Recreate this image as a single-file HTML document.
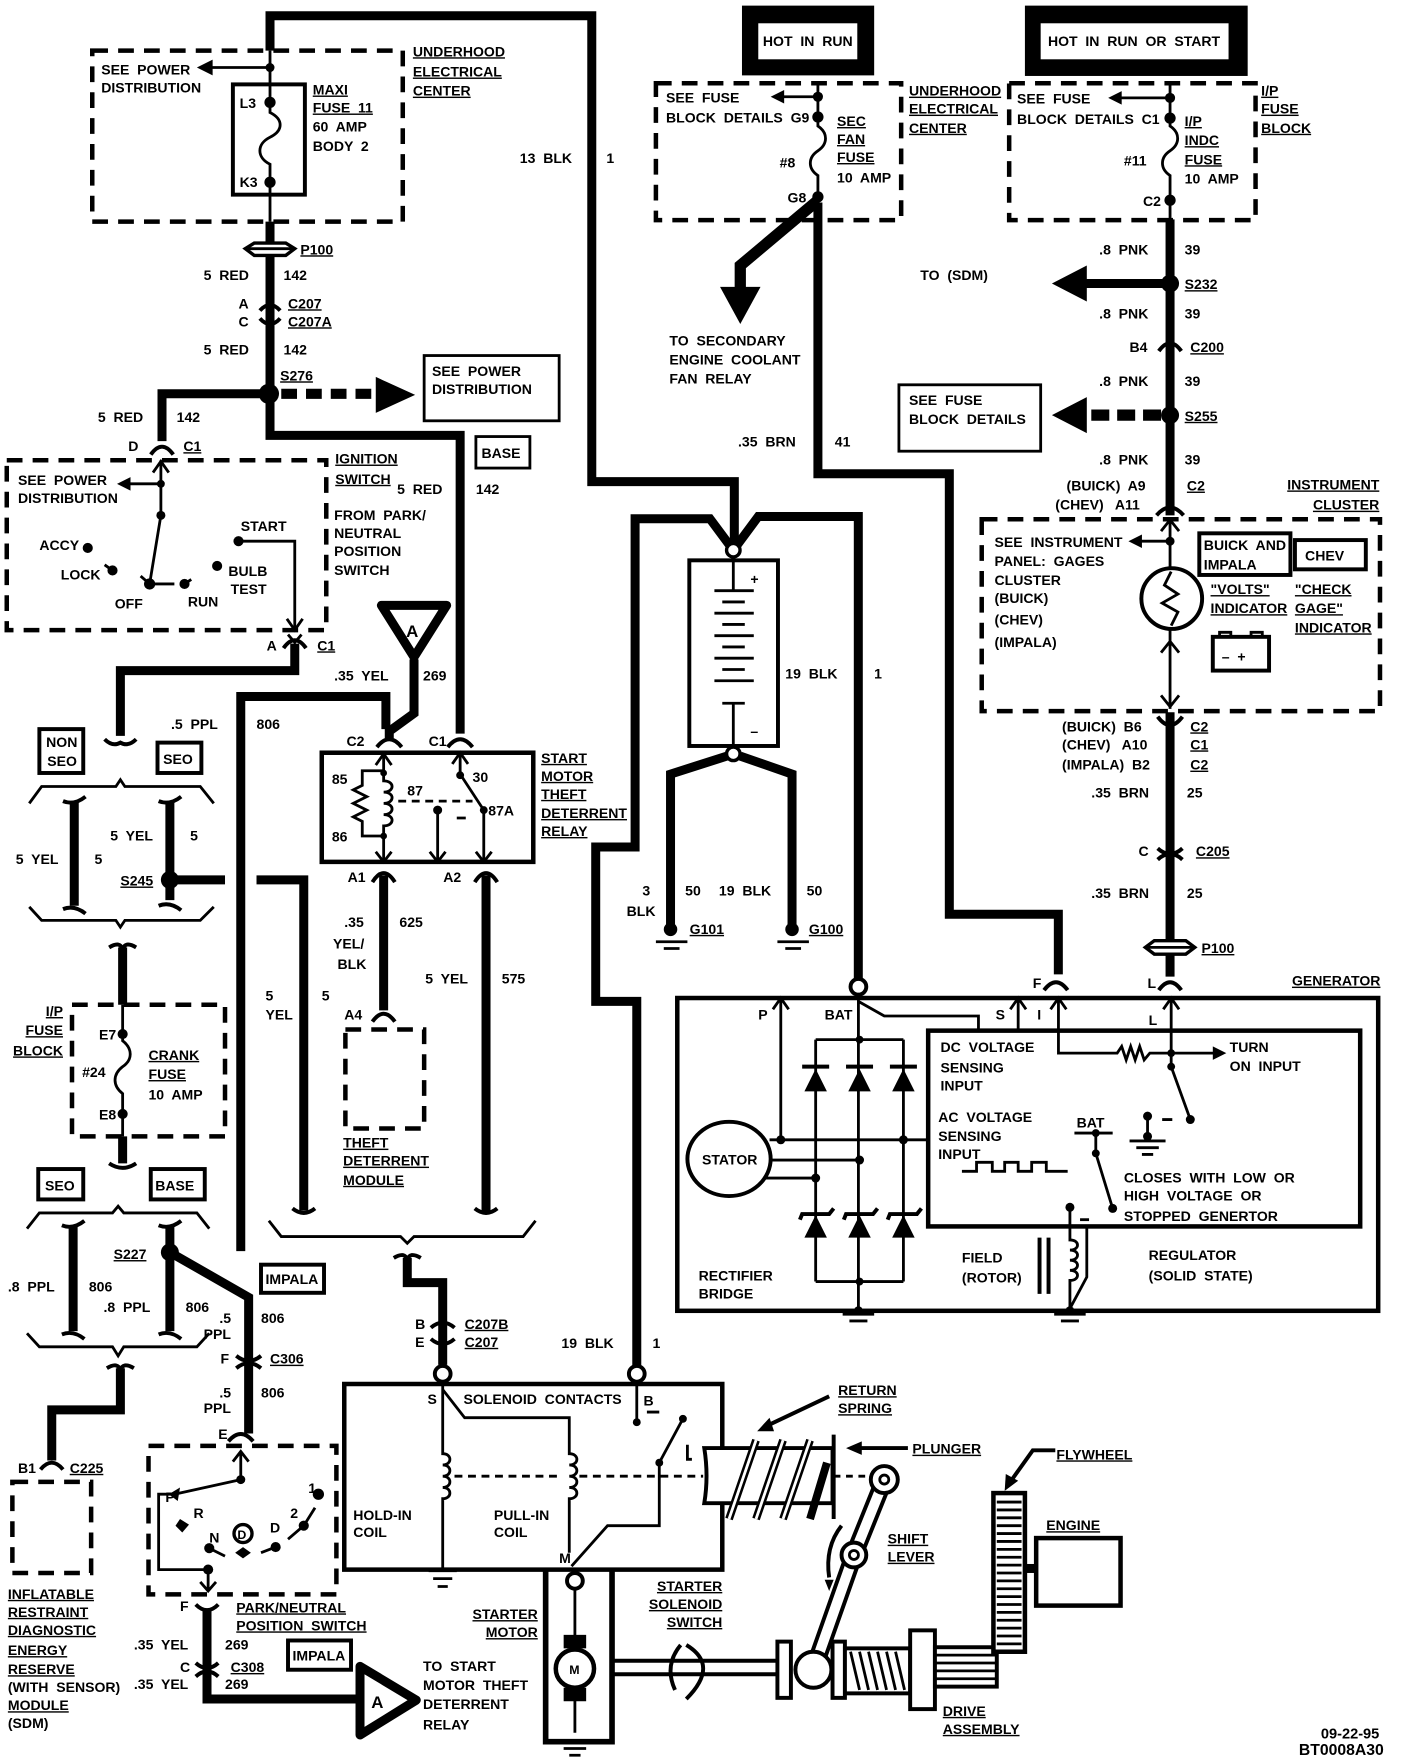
<!DOCTYPE html>
<html><head><meta charset="utf-8"><style>
html,body{margin:0;padding:0;background:#fff}
svg{display:block}
text{font-family:"Liberation Sans",sans-serif;font-weight:bold;font-size:12.5px;fill:#000;white-space:pre}
.u{text-decoration:underline}
.w{stroke:#000;stroke-width:8;fill:none}
.t{stroke:#000;stroke-width:2.5;fill:none}
.m{stroke:#000;stroke-width:3.5;fill:none}
.d{stroke:#000;stroke-width:4;fill:none;stroke-dasharray:14 9}
.b{stroke:#000;stroke-width:2.5;fill:#fff}
</style></head><body>
<svg width="1408" height="1762" viewBox="0 0 1251.5 1566" preserveAspectRatio="none" xmlns="http://www.w3.org/2000/svg">
<rect x="0" y="0" width="1251.5" height="1566" fill="#fff"/>

<!-- ===== TOP LEFT UHEC ===== -->
<rect class="d" x="82" y="45" width="276" height="152"/>
<rect class="m" x="207" y="75" width="64" height="98"/>
<path class="t" d="M240,45 V100 C252,106 252,116 240,122 C228,128 228,140 240,146 V197"/>
<path class="t" d="M240,60 H185"/><polygon points="175,60 189,53 189,67"/>
<circle cx="240" cy="60" r="4"/><circle cx="240" cy="91" r="5"/><circle cx="240" cy="162" r="5"/>
<text x="90" y="66">SEE  POWER</text><text x="90" y="82">DISTRIBUTION</text>
<text x="213" y="96">L3</text><text x="213" y="166">K3</text>
<text x="278" y="84" class="u">MAXI</text><text x="278" y="100" class="u">FUSE  11</text>
<text x="278" y="117">60  AMP</text><text x="278" y="134">BODY  2</text>
<text x="367" y="50" class="u">UNDERHOOD</text><text x="367" y="68" class="u">ELECTRICAL</text><text x="367" y="85" class="u">CENTER</text>

<path class="w" d="M240,45 V14 H526 V428 H652.7 V482"/>
<path class="w" d="M240,197 V387 H409 V652"/>
<path d="M226,216 H254 L262,221 L254,227 H226 L218,221 Z" fill="#fff" stroke="#000" stroke-width="3"/>
<path class="t" d="M220,221 H260"/>
<text x="267" y="226" class="u">P100</text>
<text x="181" y="249">5  RED</text><text x="252" y="249">142</text>
<path class="m" d="M231,276 Q240,266 249,276"/><path class="m" d="M231,283 Q240,293 249,283"/>
<text x="212" y="274">A</text><text x="212" y="290">C</text>
<text x="256" y="274" class="u">C207</text><text x="256" y="290" class="u">C207A</text>
<text x="181" y="315">5  RED</text><text x="252" y="315">142</text>
<text x="249" y="338" class="u">S276</text>
<path class="w" d="M239,350 H144 V392"/>
<circle cx="239" cy="350" r="9"/>
<path d="M250,350 H332" stroke="#000" stroke-width="9" stroke-dasharray="14 8"/>
<polygon points="334,335 369,351 334,367"/>
<rect class="t" x="377" y="316" width="120" height="58"/>
<text x="384" y="334">SEE  POWER</text><text x="384" y="350">DISTRIBUTION</text>
<text x="87" y="375">5  RED</text><text x="157" y="375">142</text>
<path class="m" d="M134,404 Q144,390 154,404"/>
<text x="114" y="401">D</text><text x="163" y="401" class="u">C1</text>
<rect class="t" x="423" y="388" width="48" height="28"/><text x="428" y="407">BASE</text>
<text x="353" y="439">5  RED</text><text x="423" y="439">142</text>

<!-- ignition switch -->
<rect class="d" x="6" y="409" width="284" height="151"/>
<text x="298" y="412" class="u">IGNITION</text><text x="298" y="430" class="u">SWITCH</text>
<text x="297" y="462">FROM  PARK/</text><text x="297" y="478">NEUTRAL</text><text x="297" y="494">POSITION</text><text x="297" y="511">SWITCH</text>
<text x="16" y="431">SEE  POWER</text><text x="16" y="447">DISTRIBUTION</text>
<path class="t" d="M143,409 V458 L133,519 H155"/><path class="t" d="M136,420 L143,410 L150,420"/>
<path class="t" d="M143,430 H112"/><polygon points="104,430 116,424 116,436"/>
<circle cx="143" cy="430" r="3.5"/><circle cx="143" cy="458" r="4"/><circle cx="133" cy="519" r="5"/>
<circle cx="78" cy="487" r="4.5"/><circle cx="100" cy="507" r="4.5"/><circle cx="164" cy="519" r="4.5"/>
<circle cx="212" cy="481" r="4.5"/><circle cx="193" cy="503" r="4.5"/>
<path class="t" d="M93,502 L100,507 M125,512 L133,519 M170,515 L164,519"/>
<path class="t" d="M212,481 H262 V560"/><path class="t" d="M255,550 L262,560 L269,550"/>
<text x="35" y="489">ACCY</text><text x="54" y="515">LOCK</text><text x="102" y="541">OFF</text><text x="167" y="539">RUN</text>
<text x="214" y="472">START</text><text x="203" y="512">BULB</text><text x="205" y="528">TEST</text>
<path class="m" d="M252,576 Q262,562 272,576"/><path class="t" d="M256,564 L262,571 L268,564"/>
<text x="237" y="578">A</text><text x="282" y="578" class="u">C1</text>
<path class="w" d="M262,572 V596 H107 V654"/>
<path class="m" d="M93,657 Q100,664 107,660 Q114,664 121,657"/>

<!-- triangle A & relay -->
<polygon points="339,538 397,538 368,584" fill="#fff" stroke="#000" stroke-width="8" stroke-linejoin="round"/>
<text x="361" y="566" style="font-size:15px">A</text>
<path class="w" d="M368,586 V634 L346,650 V656"/>
<path class="w" d="M214,1112 V619 H343 V648"/>
<text x="297" y="605">.35  YEL</text><text x="376" y="605">269</text>
<text x="152" y="648">.5  PPL</text><text x="228" y="648">806</text>
<path class="m" d="M335,664 Q346,650 357,664"/><path class="m" d="M398,664 Q409,650 420,664"/>
<text x="308" y="663">C2</text><text x="381" y="663">C1</text>
<rect x="286" y="669" width="188" height="97" fill="none" stroke="#000" stroke-width="4"/>
<path class="t" d="M341,669 V685 M334,680 L341,670 L348,680"/>
<path class="t" d="M341,685 H322 V698 L314,702 L326,708 L314,714 L326,720 L314,726 L322,730 V743 H341"/>
<path class="t" d="M341,685 V694 C351,694 351,704 341,704 C351,704 351,714 341,714 C351,714 351,724 341,724 C351,724 351,734 341,734 V766"/>
<circle cx="341" cy="687" r="3"/><circle cx="341" cy="743" r="3"/>
<path class="t" d="M334,757 L341,766 L348,757"/>
<path class="t" d="M354,712 H420" stroke-dasharray="7 5"/>
<path class="t" d="M409,669 V688 L430,720 V766 M402,679 L409,669 L416,679 M423,757 L430,766 L437,757"/>
<circle cx="409" cy="689" r="3.5"/><circle cx="430" cy="720" r="3.5"/>
<path class="t" d="M389,720 V766 M382,757 L389,766 L396,757 M406,727 H414"/>
<circle cx="389" cy="720" r="4"/>
<text x="295" y="697">85</text><text x="362" y="707">87</text><text x="420" y="695">30</text><text x="434" y="725">87A</text><text x="295" y="748">86</text>
<text x="481" y="678" class="u">START</text><text x="481" y="694" class="u">MOTOR</text><text x="481" y="710" class="u">THEFT</text><text x="481" y="727" class="u">DETERRENT</text><text x="481" y="743" class="u">RELAY</text>
<path class="m" d="M331,784 Q341,768 351,784"/><path class="m" d="M422,784 Q432,768 442,784"/>
<text x="309" y="784">A1</text><text x="394" y="784">A2</text>
<path class="w" d="M341,778 V898"/><path class="w" d="M432,778 V1078"/>
<text x="306" y="824">.35</text><text x="296" y="843">YEL/</text><text x="300" y="861">BLK</text><text x="355" y="824">625</text>
<text x="378" y="874">5  YEL</text><text x="446" y="874">575</text>
<path class="m" d="M331,908 Q341,894 351,908"/><text x="306" y="906">A4</text>
<rect class="d" x="307" y="915" width="70" height="88"/>
<text x="305" y="1020" class="u">THEFT</text><text x="305" y="1036" class="u">DETERRENT</text><text x="305" y="1053" class="u">MODULE</text>

<!-- left brackets NON SEO -->
<rect class="m" x="35" y="648" width="39" height="39"/><text x="41" y="664">NON</text><text x="42" y="681">SEO</text>
<rect class="m" x="140" y="660" width="39" height="27"/><text x="145" y="679">SEO</text>
<path class="t" d="M26,714 L37,699 H103 L107,693 L111,699 H178 L190,714" stroke-width="3"/>
<path class="w" d="M66,713 V805"/><path class="m" d="M56,712 Q66,716 76,708 M56,808 Q66,804 76,812"/>
<path class="w" d="M151,713 V800"/><path class="m" d="M141,712 Q151,716 161,708 M141,805 Q151,801 161,809"/>
<circle cx="151" cy="782" r="8"/>
<text x="14" y="768">5  YEL</text><text x="84" y="768">5</text><text x="98" y="747">5  YEL</text><text x="169" y="747">5</text>
<text x="107" y="787" class="u">S245</text>
<path class="w" d="M151,782 H200 M228,782 H270 V1076"/>
<path class="t" d="M26,806 L37,818 H103 L107,824 L111,818 H178 L190,806" stroke-width="3"/>
<path class="m" d="M97,842 Q107,836 109,844 Q111,836 121,842"/>
<path class="w" d="M109,842 V893"/>
<text x="236" y="889">5</text><text x="236" y="906">YEL</text><text x="286" y="889">5</text>

<!-- crank fuse -->
<rect class="d" x="64" y="893" width="136" height="117"/>
<path class="t" d="M109,893 V925 C118,932 118,942 109,948 C100,955 100,965 109,972 V1010"/>
<circle cx="109" cy="919" r="4.5"/><circle cx="109" cy="990" r="4.5"/>
<text x="56" y="903" text-anchor="end" class="u">I/P</text><text x="56" y="920" text-anchor="end" class="u">FUSE</text><text x="56" y="938" text-anchor="end" class="u">BLOCK</text>
<text x="88" y="924">E7</text><text x="88" y="995">E8</text><text x="73" y="957">#24</text>
<text x="132" y="942" class="u">CRANK</text><text x="132" y="959" class="u">FUSE</text><text x="132" y="977">10  AMP</text>
<path class="w" d="M109,1010 V1034"/><path class="m" d="M97,1034 Q109,1042 121,1034"/>
<rect class="m" x="34" y="1039" width="40" height="27"/><text x="40" y="1058">SEO</text>
<rect class="m" x="134" y="1039" width="48" height="27"/><text x="138" y="1058">BASE</text>
<path class="t" d="M24,1092 L35,1078 H100 L105,1072 L110,1078 H175 L186,1092" stroke-width="3"/>
<path class="w" d="M65,1090 V1183"/><path class="m" d="M55,1089 Q65,1093 75,1085 M55,1186 Q65,1182 75,1190"/>
<path class="w" d="M151,1090 V1183"/><path class="m" d="M141,1089 Q151,1093 161,1085 M141,1186 Q151,1182 161,1190"/>
<circle cx="151" cy="1113" r="8"/>
<path class="w" d="M151,1113 L221,1153 V1274"/>
<text x="101" y="1119" class="u">S227</text>
<text x="7" y="1148">.8  PPL</text><text x="79" y="1148">806</text><text x="92" y="1166">.8  PPL</text><text x="165" y="1166">806</text>
<path class="t" d="M24,1185 L35,1197 H100 L105,1205 L110,1197 H175 L186,1185" stroke-width="3"/>
<rect class="m" x="232" y="1124" width="56" height="25"/><text x="236" y="1141">IMPALA</text>
<text x="195" y="1176">.5</text><text x="181" y="1190">PPL</text><text x="232" y="1176">806</text>
<path class="m" d="M210,1205 Q221,1214 232,1205 M210,1216 Q221,1207 232,1216"/>
<text x="196" y="1212">F</text><text x="240" y="1212" class="u">C306</text>
<text x="195" y="1242">.5</text><text x="181" y="1256">PPL</text><text x="232" y="1242">806</text>
<path class="m" d="M95,1216 Q105,1210 107,1218 Q109,1210 119,1216"/>
<path class="w" d="M107,1216 V1253 H46 V1298"/>
<path class="m" d="M36,1306 Q46,1294 56,1306"/>
<text x="16" y="1309">B1</text><text x="62" y="1309" class="u">C225</text>
<rect class="d" x="11" y="1317" width="70" height="81"/>
<text x="7" y="1421" class="u">INFLATABLE</text><text x="7" y="1437" class="u">RESTRAINT</text><text x="7" y="1453" class="u">DIAGNOSTIC</text><text x="7" y="1471" class="u">ENERGY</text><text x="7" y="1488" class="u">RESERVE</text><text x="7" y="1504">(WITH  SENSOR)</text><text x="7" y="1520" class="u">MODULE</text><text x="7" y="1536">(SDM)</text>

<!-- PN switch -->
<path class="m" d="M203,1281 Q214,1268 225,1281"/><text x="194" y="1279">E</text>
<rect class="d" x="132" y="1285" width="167" height="132"/>
<path class="t" d="M214,1290 V1315 L155,1328 M207,1299 L214,1290 L221,1299"/>
<circle cx="214" cy="1315" r="4"/><polygon points="150,1328 160,1322 158,1334"/>
<path class="t" d="M155,1328 H141 V1395 H185 V1414 M178,1406 L185,1414 L192,1406"/>
<circle cx="185" cy="1395" r="4.5"/><circle cx="186" cy="1376" r="4.5"/><path class="t" d="M186,1376 L200,1383"/>
<polygon points="160,1350 168,1355 162,1362 156,1356"/>
<circle cx="283" cy="1328" r="5"/><circle cx="270" cy="1356" r="4.5"/><path class="t" d="M270,1356 L256,1368 M270,1356 L280,1340"/>
<circle cx="245" cy="1375" r="4.5"/><path class="t" d="M245,1375 L232,1380"/>
<circle cx="216" cy="1363" r="8" fill="#fff" stroke="#000" stroke-width="3"/><text x="211" y="1368" style="font-size:11px">D</text>
<polygon points="216,1375 223,1380 216,1385 209,1380"/>
<text x="147" y="1335">P</text><text x="172" y="1349">R</text><text x="186" y="1371">N</text><text x="240" y="1362">D</text><text x="258" y="1349">2</text><text x="274" y="1327">1</text>
<path class="m" d="M174,1426 Q184,1436 194,1426"/><text x="160" y="1432">F</text>
<text x="210" y="1433" class="u">PARK/NEUTRAL</text><text x="210" y="1449" class="u">POSITION  SWITCH</text>
<rect class="m" x="256" y="1458" width="56" height="26"/><text x="260" y="1476">IMPALA</text>
<path class="w" d="M184,1430 V1510 H318"/>
<path class="m" d="M174,1478 Q184,1487 194,1478 M174,1490 Q184,1481 194,1490"/>
<text x="119" y="1466">.35  YEL</text><text x="200" y="1466">269</text><text x="160" y="1486">C</text><text x="205" y="1486" class="u">C308</text>
<text x="119" y="1501">.35  YEL</text><text x="200" y="1501">269</text>
<polygon points="320,1481 320,1542 370,1511" fill="#fff" stroke="#000" stroke-width="8" stroke-linejoin="round"/>
<text x="330" y="1518" style="font-size:15px">A</text>
<text x="376" y="1485">TO  START</text><text x="376" y="1502">MOTOR  THEFT</text><text x="376" y="1519">DETERRENT</text><text x="376" y="1537">RELAY</text>

<!-- middle bracket + solenoid -->
<path class="t" d="M239,1085 L250,1099 H356 L362,1105 L368,1099 H465 L476,1085" stroke-width="3"/>
<path class="m" d="M260,1074 Q270,1082 280,1074 M422,1074 Q432,1082 442,1074"/>
<path class="m" d="M350,1118 Q360,1112 362,1120 Q364,1112 374,1118"/>
<path class="w" d="M362,1118 V1140 H393.5 V1213"/>
<path class="m" d="M383,1180 Q393.5,1171 404,1180 M383,1190 Q393.5,1199 404,1190"/>
<text x="369" y="1181">B</text><text x="369" y="1197">E</text><text x="413" y="1181" class="u">C207B</text><text x="413" y="1197" class="u">C207</text>
<circle cx="393.5" cy="1221" r="7" fill="#fff" stroke="#000" stroke-width="3.5"/>
<text x="499" y="1198">19  BLK</text><text x="580" y="1198">1</text>
<circle cx="566" cy="1221" r="7" fill="#fff" stroke="#000" stroke-width="3.5"/>
<path d="M306,1230 H642 V1395 H306 Z" fill="none" stroke="#000" stroke-width="4"/>
<text x="380" y="1248">S</text><text x="412" y="1248">SOLENOID  CONTACTS</text><text x="572" y="1249">B</text>
<path class="t" d="M393.5,1228 V1292 C402,1292 402,1302 393.5,1302 C402,1302 402,1312 393.5,1312 C402,1312 402,1322 393.5,1322 C402,1322 402,1332 393.5,1332 V1394"/>
<path class="t" d="M393.5,1235 L413,1260 H506 V1292 C515,1292 515,1302 506,1302 C515,1302 515,1312 506,1312 C515,1312 515,1322 506,1322 C515,1322 515,1332 506,1332 V1380"/>
<path class="t" d="M404,1312 H500 M515,1312 H625" stroke-dasharray="7 5"/>
<path class="t" d="M508,1392 L540,1356 H586 V1300 L607,1261 M566,1228 V1264"/>
<circle cx="566" cy="1264" r="3.5"/><circle cx="607" cy="1261" r="3.5"/><circle cx="586" cy="1300" r="3.5"/>
<path class="t" d="M575,1255 H586 M611,1284 V1297 H615"/>
<path class="t" d="M381,1396 H406 M385,1403 H402 M389,1410 H398"/>
<text x="314" y="1351">HOLD-IN</text><text x="314" y="1366">COIL</text><text x="439" y="1351">PULL-IN</text><text x="439" y="1366">COIL</text>
<text x="497" y="1389">M</text>
<circle cx="511" cy="1405" r="7" fill="#fff" stroke="#000" stroke-width="3.5"/>
<path d="M485,1396 V1548 H544 V1396" fill="none" stroke="#000" stroke-width="5"/>
<path class="t" d="M511,1412 V1540"/>
<rect x="501" y="1453" width="20" height="12"/><rect x="501" y="1500" width="20" height="12"/>
<circle cx="511" cy="1483" r="17" fill="#fff" stroke="#000" stroke-width="4"/><text x="506" y="1488" style="font-size:11px">M</text>
<path class="t" d="M497,1548 H526 M501,1554 H521 M506,1560 H516"/>
<text x="478" y="1439" text-anchor="end" class="u">STARTER</text><text x="478" y="1455" text-anchor="end" class="u">MOTOR</text>
<text x="642" y="1414" text-anchor="end" class="u">STARTER</text><text x="642" y="1430" text-anchor="end" class="u">SOLENOID</text><text x="642" y="1446" text-anchor="end" class="u">SWITCH</text>

<!-- plunger / spring / lever -->
<path d="M626,1287 H740 V1336 H626 Q630,1312 626,1287Z" fill="#fff" stroke="#000" stroke-width="3.5"/>
<path class="m" d="M741,1275 V1350"/>
<path d="M648,1350 L672,1280 M672,1350 L696,1280 M696,1350 L720,1280 M720,1350 L735,1300" stroke="#000" stroke-width="7" fill="none"/>
<path d="M648,1350 L672,1280 M672,1350 L696,1280 M696,1350 L720,1280" stroke="#fff" stroke-width="2.5" fill="none"/>
<path class="t" d="M741,1312 H770" stroke-dasharray="6 5"/>
<path class="m" d="M807,1287 H760"/><polygon points="752,1287 766,1281 766,1293"/>
<text x="811" y="1292" class="u">PLUNGER</text>
<text x="745" y="1240" class="u">RETURN</text><text x="745" y="1256" class="u">SPRING</text>
<path class="m" d="M737,1241 L680,1268"/><polygon points="673,1272 684,1260 688,1272"/>
<path d="M786,1315 L759,1382 L723,1484" stroke="#000" stroke-width="16" fill="none" stroke-linecap="round"/>
<path d="M786,1315 L759,1382 L723,1484" stroke="#fff" stroke-width="9" fill="none" stroke-linecap="round"/>
<circle cx="786" cy="1315" r="12" fill="#fff" stroke="#000" stroke-width="3.5"/><circle cx="786" cy="1315" r="4" fill="none" stroke="#000" stroke-width="2.5"/>
<circle cx="759" cy="1382" r="11" fill="#fff" stroke="#000" stroke-width="3.5"/><circle cx="759" cy="1382" r="4" fill="none" stroke="#000" stroke-width="2.5"/>
<circle cx="723" cy="1484" r="16" fill="#fff" stroke="#000" stroke-width="3.5"/>
<path class="m" d="M748,1356 Q733,1375 737,1402"/><polygon points="733,1404 741,1404 737,1414"/>
<text x="789" y="1372" class="u">SHIFT</text><text x="789" y="1388" class="u">LEVER</text>
<path d="M544,1476 H692 V1488 H544" fill="none" stroke="#000" stroke-width="3.5"/>
<rect x="691" y="1459" width="12" height="50" fill="#fff" stroke="#000" stroke-width="3.5"/>
<path class="m" d="M605,1462 Q590,1480 600,1502 M610,1462 Q640,1480 610,1510"/>
<rect x="740" y="1459" width="11" height="50" fill="#fff" stroke="#000" stroke-width="3.5"/>
<rect x="751" y="1465" width="58" height="40" fill="#fff" stroke="#000" stroke-width="3.5"/>
<path class="t" d="M756,1468 L764,1502 M764,1468 L772,1502 M772,1468 L780,1502 M780,1468 L788,1502 M788,1468 L796,1502 M796,1468 L804,1502"/>
<rect x="809" y="1449" width="22" height="70" fill="#fff" stroke="#000" stroke-width="3.5"/>
<rect x="831" y="1464" width="55" height="35" fill="#fff" stroke="#000" stroke-width="3.5"/>
<path class="t" d="M831,1471 H886 M831,1478 H886 M831,1485 H886 M831,1492 H886"/>
<text x="838" y="1525" class="u">DRIVE</text><text x="838" y="1541" class="u">ASSEMBLY</text>
<rect x="883" y="1327" width="28" height="141" fill="#fff" stroke="#000" stroke-width="4"/>
<path d="M886,1335 H908 M886,1342 H908 M886,1349 H908 M886,1356 H908 M886,1363 H908 M886,1370 H908 M886,1377 H908 M886,1384 H908 M886,1391 H908 M886,1398 H908 M886,1405 H908 M886,1412 H908 M886,1419 H908 M886,1426 H908 M886,1433 H908 M886,1440 H908 M886,1447 H908 M886,1454 H908 M886,1461 H908" stroke="#000" stroke-width="2.5"/>
<text x="939" y="1297" class="u">FLYWHEEL</text>
<path class="m" d="M938,1289 H918 L898,1317"/><polygon points="893,1325 894,1310 905,1316"/>
<text x="930" y="1360" class="u">ENGINE</text>
<rect x="921" y="1367" width="75" height="60" fill="none" stroke="#000" stroke-width="4"/>
<rect x="911" y="1390" width="10" height="8"/>

<!-- ===== battery section ===== -->
<path class="w" d="M651.8,489 L631,461 H564.5 V752.8 H529.5 V890 H566 V1214"/>
<path class="w" d="M651.8,489 L674,459 H762.9 V870"/>
<path class="w" d="M727,180 V421 H843.8 V812.5 H940.7 V866"/>
<rect x="612.7" y="498" width="78.8" height="165" fill="#fff" stroke="#000" stroke-width="3.5"/>
<path class="t" d="M651.8,498 V525 M635,525 H670 M642,535 H662 M635,545 H670 M642,555 H662 M635,565 H670 M642,575 H662 M635,585 H670 M642,595 H662 M635,605 H670 M642,625 H662 M651.8,625 V663"/>
<text x="667" y="519">+</text><text x="667" y="654">–</text>
<circle cx="651.8" cy="489" r="6" fill="#fff" stroke="#000" stroke-width="3"/>
<circle cx="651.8" cy="670" r="6" fill="#fff" stroke="#000" stroke-width="3"/>
<path class="w" d="M646,672 L596,688 V824 M658,672 L704,688 V824"/>
<circle cx="596" cy="826" r="6"/><circle cx="704" cy="826" r="6"/>
<path class="t" d="M583,837 H611 M590,843 H604 M691,837 H719 M698,843 H712"/>
<text x="656" y="397">.35  BRN</text><text x="742" y="397">41</text>
<text x="698" y="603">19  BLK</text><text x="777" y="603">1</text>
<text x="571" y="796">3</text><text x="557" y="814">BLK</text><text x="609" y="796">50</text><text x="639" y="796">19  BLK</text><text x="717" y="796">50</text>
<text x="613" y="830" class="u">G101</text><text x="719" y="830" class="u">G100</text>
<text x="462" y="145">13  BLK</text><text x="539" y="145">1</text>

<!-- ===== top right ===== -->
<rect x="659.5" y="5" width="117.5" height="62" fill="#000"/><rect x="674" y="20.7" width="88" height="32" fill="#fff"/>
<text x="718" y="41" text-anchor="middle">HOT  IN  RUN</text>
<rect x="911" y="5" width="198" height="62.5" fill="#000"/><rect x="925" y="20.7" width="167" height="32" fill="#fff"/>
<text x="1008" y="41" text-anchor="middle">HOT  IN  RUN  OR  START</text>
<rect class="d" x="583" y="74" width="218" height="121.6"/>
<path class="t" d="M727,74 V112 C736,118 736,128 727,134 C718,140 718,150 727,156 V195"/>
<circle cx="727" cy="86" r="4.5"/><circle cx="727" cy="104" r="5"/><circle cx="727" cy="175" r="5"/>
<path class="t" d="M727,86 H693"/><polygon points="685,86 697,80 697,92"/>
<text x="592" y="91">SEE  FUSE</text><text x="592" y="109">BLOCK  DETAILS  G9</text>
<text x="693" y="149">#8</text><text x="700" y="180">G8</text>
<text x="744" y="112" class="u">SEC</text><text x="744" y="128" class="u">FAN</text><text x="744" y="144" class="u">FUSE</text><text x="744" y="162">10  AMP</text>
<text x="808" y="85" class="u">UNDERHOOD</text><text x="808" y="101" class="u">ELECTRICAL</text><text x="808" y="118" class="u">CENTER</text>
<path d="M727,178 L658,236 V258" stroke="#000" stroke-width="10" fill="none"/>
<polygon points="640,255 676,255 658,288"/>
<text x="595" y="307">TO  SECONDARY</text><text x="595" y="324">ENGINE  COOLANT</text><text x="595" y="341">FAN  RELAY</text>

<rect class="d" x="897" y="74" width="219" height="121.6"/>
<path class="t" d="M1040,74 V112 C1049,118 1049,128 1040,134 C1031,140 1031,150 1040,156 V195"/>
<circle cx="1040" cy="87" r="4.5"/><circle cx="1040" cy="105" r="5"/><circle cx="1040" cy="178" r="5"/>
<path class="t" d="M1040,87 H993"/><polygon points="985,87 997,81 997,93"/>
<text x="904" y="92">SEE  FUSE</text><text x="904" y="110">BLOCK  DETAILS  C1</text>
<text x="999" y="147">#11</text><text x="1016" y="183">C2</text>
<text x="1053" y="112" class="u">I/P</text><text x="1053" y="129" class="u">INDC</text><text x="1053" y="146" class="u">FUSE</text><text x="1053" y="163">10  AMP</text>
<text x="1121" y="85" class="u">I/P</text><text x="1121" y="101" class="u">FUSE</text><text x="1121" y="118" class="u">BLOCK</text>
<path class="w" d="M1040,195 V458"/>
<path class="w" d="M1040,633 V868"/>
<text x="977" y="226">.8  PNK</text><text x="1053" y="226">39</text>
<circle cx="1040" cy="252" r="8"/>
<path class="w" d="M1040,252 H964" stroke-width="10"/><polygon points="935,252 966,236 966,268"/>
<text x="818" y="249">TO  (SDM)</text><text x="1053" y="257" class="u">S232</text>
<text x="977" y="283">.8  PNK</text><text x="1053" y="283">39</text>
<path class="m" d="M1030,312 Q1040,298 1050,312"/><text x="1004" y="313">B4</text><text x="1058" y="313" class="u">C200</text>
<text x="977" y="343">.8  PNK</text><text x="1053" y="343">39</text>
<circle cx="1040" cy="369" r="8"/>
<path d="M1032,369 H962" stroke="#000" stroke-width="10" stroke-dasharray="16 7"/><polygon points="935,369 966,353 966,385"/>
<rect class="t" x="799" y="342" width="126" height="59"/>
<text x="808" y="360">SEE  FUSE</text><text x="808" y="377">BLOCK  DETAILS</text><text x="1053" y="374" class="u">S255</text>
<text x="977" y="413">.8  PNK</text><text x="1053" y="413">39</text>
<text x="948" y="436">(BUICK)  A9</text><text x="938" y="453">(CHEV)   A11</text><text x="1055" y="436" class="u">C2</text>
<text x="1226" y="435" text-anchor="end" class="u">INSTRUMENT</text><text x="1226" y="453" text-anchor="end" class="u">CLUSTER</text>
<path class="m" d="M1028,458 Q1040,444 1052,458"/>
<rect class="d" x="872.6" y="461.5" width="354" height="170.5"/>
<path class="t" d="M1040,462 V505 M1040,559 V630 M1032,472 L1040,462 L1048,472 M1032,580 L1040,570 L1048,580 M1032,618 L1040,628 L1048,618"/>
<circle cx="1040" cy="481" r="4"/><path class="t" d="M1040,481 H1012"/><polygon points="1003,481 1015,475 1015,487"/>
<circle cx="1041.5" cy="532" r="27" fill="#fff" stroke="#000" stroke-width="3.5"/>
<path class="t" d="M1041,508 L1035,520 L1047,528 L1033,536 L1047,544 L1041,556"/>
<text x="884" y="486">SEE  INSTRUMENT</text><text x="884" y="503">PANEL:  GAGES</text><text x="884" y="520">CLUSTER</text><text x="884" y="536">(BUICK)</text><text x="884" y="555">(CHEV)</text><text x="884" y="575">(IMPALA)</text>
<rect class="m" x="1066" y="474" width="81" height="37"/><text x="1070" y="489">BUICK  AND</text><text x="1070" y="506">IMPALA</text>
<rect class="m" x="1151" y="480" width="63" height="26"/><text x="1160" y="498">CHEV</text>
<text x="1076" y="528" class="u">"VOLTS"</text><text x="1076" y="545" class="u">INDICATOR</text>
<text x="1151" y="528" class="u">"CHECK</text><text x="1151" y="545" class="u">GAGE"</text><text x="1151" y="562" class="u">INDICATOR</text>
<rect class="m" x="1078" y="566" width="50" height="30"/><path class="t" d="M1084,566 V562 H1094 V566 M1112,566 V562 H1122 V566"/>
<text x="1086" y="588">–  +</text>
<path class="m" d="M1029,637 Q1040,652 1051,637"/>
<text x="944" y="650">(BUICK)  B6</text><text x="944" y="666">(CHEV)   A10</text><text x="944" y="684">(IMPALA)  B2</text>
<text x="1058" y="650" class="u">C2</text><text x="1058" y="666" class="u">C1</text><text x="1058" y="684" class="u">C2</text>
<text x="970" y="709">.35  BRN</text><text x="1055" y="709">25</text>
<path class="m" d="M1029,754 Q1040,764 1051,754 M1029,764 Q1040,754 1051,764"/>
<text x="1012" y="761">C</text><text x="1063" y="761" class="u">C205</text>
<text x="970" y="798">.35  BRN</text><text x="1055" y="798">25</text>
<path d="M1026,836 H1054 L1062,842 L1054,848 H1026 L1018,842 Z" fill="#fff" stroke="#000" stroke-width="3"/>
<path class="t" d="M1020,842 H1060"/><text x="1068" y="847" class="u">P100</text>

<!-- ===== generator ===== -->
<text x="1227" y="876" text-anchor="end" class="u">GENERATOR</text>
<circle cx="763" cy="877" r="7" fill="#fff" stroke="#000" stroke-width="3.5"/>
<path class="m" d="M928,880 Q938.7,866 949,880"/><path class="m" d="M1030,880 Q1040,866 1050,880"/>
<text x="918" y="878">F</text><text x="1020" y="878">L</text>
<rect x="602" y="887" width="623" height="278" fill="none" stroke="#000" stroke-width="4"/>
<path class="t" d="M694,887 V1013 M687,897 L694,887 L701,897"/>
<text x="674" y="906">P</text><text x="733" y="906">BAT</text>
<path class="t" d="M763,884 V1165 M763,890 L786,903 H869.7 V916"/>
<path class="t" d="M905,887 V916 M898,897 L905,887 L912,897"/><text x="885" y="906">S</text>
<path class="t" d="M940.8,887 V936 H993 L997,930 L1001,942 L1005,930 L1009,942 L1013,930 L1017,942 L1022,936 H1080 M933.8,897 L940.8,887 L947.8,897"/>
<polygon points="1090,936 1078,930 1078,942"/><text x="922" y="906">I</text>
<path class="t" d="M1041,887 V948 L1058,995 M1034,897 L1041,887 L1048,897"/>
<circle cx="1041" cy="936" r="3.5"/><circle cx="1041" cy="948" r="3.5"/><circle cx="1058" cy="995" r="4"/>
<text x="1021" y="911">L</text>
<path class="t" d="M1020,992 V1012 M1004,1014 H1036 M1010,1020 H1030 M1015,1026 H1025 M1033,995 H1042"/>
<circle cx="1020" cy="992" r="4"/><circle cx="1020" cy="1010" r="4"/>
<text x="1093" y="935">TURN</text><text x="1093" y="952">ON  INPUT</text>
<rect x="825" y="916" width="384" height="174" fill="none" stroke="#000" stroke-width="4"/>
<text x="836" y="935">DC  VOLTAGE</text><text x="836" y="953">SENSING</text><text x="836" y="969">INPUT</text>
<text x="834" y="997">AC  VOLTAGE</text><text x="834" y="1014">SENSING</text><text x="834" y="1030">INPUT</text>
<path class="t" d="M725,924 H803 M725,924 V1139 M803,924 V1139 M725,1139 H803"/>
<g fill="#000">
<polygon points="715,970 735,970 725,950"/><polygon points="754,970 774,970 764,950"/><polygon points="793,970 813,970 803,950"/>
<polygon points="715,1100 735,1100 725,1080"/><polygon points="754,1100 774,1100 764,1080"/><polygon points="793,1100 813,1100 803,1080"/>
</g>
<path class="m" d="M713,948 H737 M752,948 H776 M791,948 H815 M711,1084 L713,1079 H737 L741,1074 M750,1084 L752,1079 H776 L780,1074 M789,1084 L791,1079 H815 L819,1074"/>
<circle cx="764" cy="924" r="3.5"/><circle cx="764" cy="1139" r="3.5"/>
<ellipse cx="648" cy="1030" rx="37" ry="33" fill="#fff" stroke="#000" stroke-width="3.5"/>
<text x="624" y="1035">STATOR</text>
<path class="t" d="M684,1013 H825 M685,1031 H764 M680,1047 H725"/>
<circle cx="694" cy="1013" r="4"/><circle cx="803" cy="1013" r="4"/><circle cx="764" cy="1031" r="4"/><circle cx="725" cy="1047" r="4"/>
<path class="t" d="M855,1041 H868 V1033 H882 V1041 H893 V1033 H905 V1041 H917 V1033 H930 V1041 H949"/>
<text x="957" y="1002">BAT</text>
<path class="t" d="M955,1007 H989 M974,1007 V1025 L989,1074"/>
<circle cx="974" cy="1007" r="3.5"/><circle cx="974" cy="1025" r="3.5"/><circle cx="989" cy="1074" r="4"/>
<path class="t" d="M960,1084 H968"/>
<text x="999" y="1051">CLOSES  WITH  LOW  OR</text><text x="999" y="1067">HIGH  VOLTAGE  OR</text><text x="999" y="1085">STOPPED  GENERTOR</text>
<circle cx="951" cy="1073" r="4"/>
<path class="t" d="M951,1073 V1102 C960,1102 960,1111 951,1111 C960,1111 960,1120 951,1120 C960,1120 960,1129 951,1129 C960,1129 960,1138 951,1138 V1165 M966,1090 V1135 L951,1163"/>
<path class="m" d="M924,1100 V1150 M932,1100 V1150"/>
<text x="855" y="1122">FIELD</text><text x="855" y="1140">(ROTOR)</text>
<text x="1021" y="1120">REGULATOR</text><text x="1021" y="1138">(SOLID  STATE)</text>
<text x="621" y="1138">RECTIFIER</text><text x="621" y="1154">BRIDGE</text>
<path class="t" d="M749,1168 H777 M755,1174 H771 M937,1168 H965 M943,1174 H959"/>
<circle cx="763" cy="1165" r="4"/><circle cx="951" cy="1165" r="4"/>

<text x="1226" y="1545" text-anchor="end" style="font-size:13px">09-22-95</text>
<text x="1230" y="1560" text-anchor="end" style="font-size:14px">BT0008A30</text>
</svg>
</body></html>
